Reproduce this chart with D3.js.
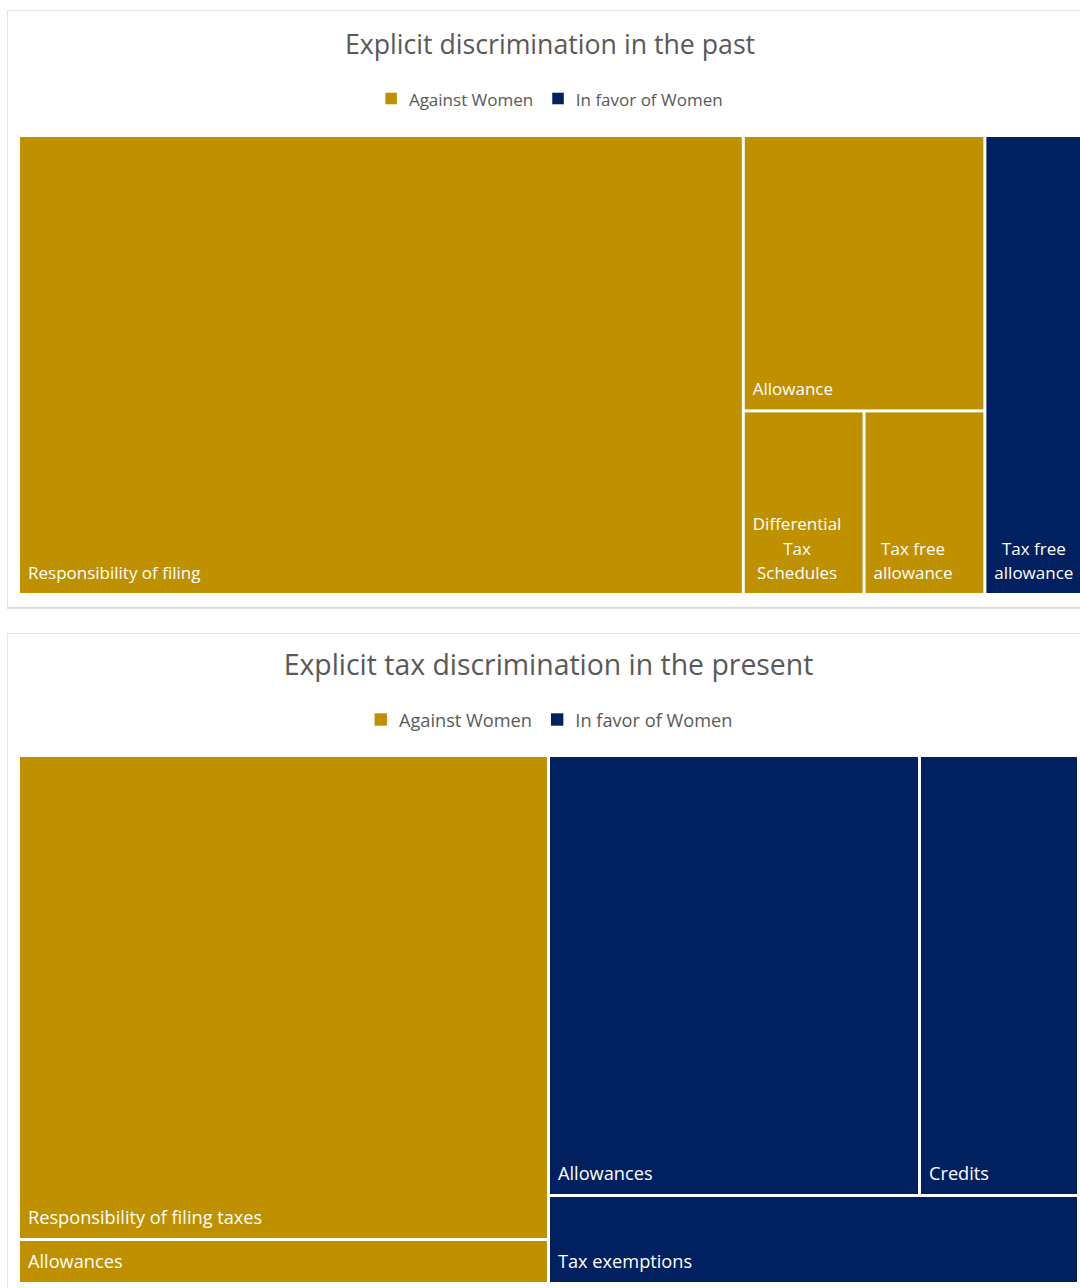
<!DOCTYPE html>
<html>
<head>
<meta charset="utf-8">
<script src="https://cdn.jsdelivr.net/npm/d3@7"></script>
<style>
  body { margin: 0; background: #ffffff; }
  svg { display: block; }
  text { font-family: "Open Sans", "Noto Sans", sans-serif; }
</style>
</head>
<body>
<svg id="chart" width="1080" height="1288"></svg>
<script>
// Legend groups
const groupNames = ["Against Women", "In favor of Women"];
const groupColors = ["#BF9000", "#002060"];

// Chart 1: explicit discrimination in the past
const pastTitle = "Explicit discrimination in the past";
const pastLabels = ["Responsibility of filing", "Allowance", "Differential Tax Schedules", "Tax free allowance", "Tax free allowance"];
const pastGroups = [0, 0, 0, 0, 1];
const pastValues = [15, 3, 1, 1, 2];

// Chart 2: explicit tax discrimination in the present
const presentTitle = "Explicit tax discrimination in the present";
const presentLabels = ["Responsibility of filing taxes", "Allowances", "Allowances", "Credits", "Tax exemptions"];
const presentGroups = [0, 0, 1, 1, 1];
const presentValues = [11, 1, 7, 3, 2];

const svg = d3.select("#chart");
const squarify = d3.treemapSquarify.ratio(1.3);

// Squarified tiling; a box that is about square gets its first row across the top.
function tile(node, x0, y0, x1, y1) {
  const w = x1 - x0, h = y1 - y0;
  if (w >= h && w < h * 1.03) {
    const w2 = h * 0.999;
    squarify(node, x0, y0, x0 + w2, y1);
    const k = w / w2;
    for (const c of node.children) {
      c.x0 = x0 + (c.x0 - x0) * k;
      c.x1 = x0 + (c.x1 - x0) * k;
    }
  } else {
    squarify(node, x0, y0, x1, y1);
  }
}

function drawPanel(cfg) {
  const g = svg.append("g");

  // card frame
  g.append("rect")
    .attr("x", 7.5).attr("y", cfg.top + 0.5)
    .attr("width", 1200).attr("height", cfg.height)
    .attr("fill", "#fff").attr("stroke", "#e6e6e6");
  g.append("line")
    .attr("x1", 7).attr("x2", 1080)
    .attr("y1", cfg.top + cfg.height + 1).attr("y2", cfg.top + cfg.height + 1)
    .attr("stroke", "#d6d6d6").attr("stroke-width", 1.5);

  // title
  g.append("text")
    .attr("x", cfg.titleX).attr("y", cfg.titleY)
    .attr("text-anchor", "middle").attr("dominant-baseline", "central")
    .attr("font-size", cfg.titleSize).attr("fill", "#595959")
    .text(cfg.title);

  // legend
  const leg = g.append("g");
  let lx = 0;
  const sq = cfg.legendSize * 0.68;
  groupNames.forEach((name, i) => {
    const item = leg.append("g").attr("transform", `translate(${lx},0)`);
    item.append("rect").attr("x", 0).attr("y", -sq / 2 - 0.5).attr("width", sq).attr("height", sq)
      .attr("fill", groupColors[i]);
    const t = item.append("text").attr("x", sq + 12).attr("y", 0)
      .attr("dominant-baseline", "central")
      .attr("font-size", cfg.legendSize).attr("fill", "#595959").text(name);
    lx += sq + 12 + t.node().getComputedTextLength() + 19;
  });
  const legW = lx - 19;
  leg.attr("transform", `translate(${cfg.legendX - legW / 2},${cfg.legendY})`);

  // hierarchy: group -> item
  const data = {
    name: "root",
    children: groupNames.map((name, gi) => ({
      name, group: gi,
      children: cfg.labels.map((label, i) => ({ label, group: cfg.groups[i], value: cfg.values[i] }))
        .filter(d => d.group === gi)
    }))
  };
  const root = d3.hierarchy(data).sum(d => d.value || 0).sort((a, b) => b.value - a.value);
  d3.treemap()
    .tile(tile)
    .size([cfg.x1 - cfg.x0, cfg.y1 - cfg.y0])
    .paddingInner(3)(root);

  const plot = g.append("g").attr("transform", `translate(${cfg.x0},${cfg.y0})`);
  const leaves = plot.selectAll("g.leaf").data(root.leaves()).join("g").attr("class", "leaf");
  leaves.append("rect")
    .attr("x", d => d.x0).attr("y", d => d.y0)
    .attr("width", d => d.x1 - d.x0).attr("height", d => d.y1 - d.y0)
    .attr("fill", d => groupColors[d.data.group]);

  // labels: wrapped, bottom-left block, lines centred within the block
  const fs = cfg.labelSize, lh = fs * 1.44;
  leaves.each(function (d) {
    const sel = d3.select(this);
    const avail = d.x1 - d.x0 - 16;
    const txt = sel.append("text").attr("font-size", fs).attr("fill", "#fff").attr("text-anchor", "middle");
    const measure = s => { txt.text(s); return txt.node().getComputedTextLength(); };
    const words = d.data.label.split(" ");
    const lines = [];
    let cur = "";
    words.forEach(w => {
      const trial = cur ? cur + " " + w : w;
      if (cur && measure(trial) > avail) { lines.push(cur); cur = w; } else cur = trial;
    });
    lines.push(cur);
    const widths = lines.map(measure);
    const blockW = d3.max(widths);
    txt.text(null);
    const cx = d.x0 + 8 + blockW / 2;
    const lastY = d.y1 - 14;
    lines.forEach((ln, i) => {
      txt.append("tspan").attr("x", cx).attr("y", lastY - (lines.length - 1 - i) * lh).text(ln);
    });
  });
}

drawPanel({
  top: 10, height: 597, titleX: 550, titleY: 43, legendX: 554, legendY: 99,
  titleSize: 26.7, legendSize: 17, labelSize: 17,
  x0: 20, x1: 1080, y0: 137, y1: 593,
  title: pastTitle, labels: pastLabels, groups: pastGroups, values: pastValues
});
drawPanel({
  top: 633, height: 700, titleX: 548.5, titleY: 664, legendX: 553.5, legendY: 720,
  titleSize: 28.4, legendSize: 18.2, labelSize: 18.2,
  x0: 20, x1: 1077, y0: 757, y1: 1282,
  title: presentTitle, labels: presentLabels, groups: presentGroups, values: presentValues
});
</script>
</body>
</html>
